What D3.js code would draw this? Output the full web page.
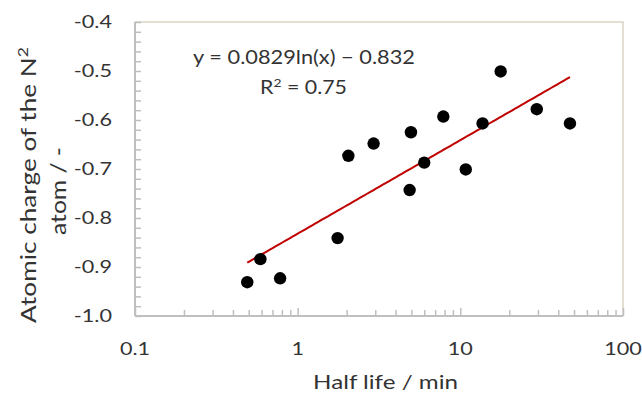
<!DOCTYPE html>
<html><head><meta charset="utf-8">
<script src="https://cdn.jsdelivr.net/npm/d3@7"></script>
<style>body{margin:0;background:#fff;} svg{display:block;} text{font-family:Lato,"Open Sans",sans-serif;fill:#333;}</style>
</head><body>
<svg id="c" width="642" height="393"></svg>
<script>
const halfLife = [0.49, 0.59, 0.78, 1.76, 2.05, 2.93, 4.97, 6.0, 4.88, 7.86, 17.7, 13.7, 10.8, 29.5, 47.2];
const charge   = [-0.931, -0.884, -0.923, -0.841, -0.673, -0.648, -0.625, -0.687, -0.743, -0.593, -0.501, -0.607, -0.701, -0.578, -0.607];
const xTicks = [0.1, 1, 10, 100];
const xTickLabels = ["0.1", "1", "10", "100"];
const yTicks = [-0.4, -0.5, -0.6, -0.7, -0.8, -0.9, -1.0];
const yTickLabels = ["-0.4", "-0.5", "-0.6", "-0.7", "-0.8", "-0.9", "-1.0"];
const fitA = 0.0829, fitB = -0.832;
const eqText = "y = 0.0829ln(x) − 0.832";
const r2Text = ["R", "2", " = 0.75"];
const xTitle = "Half life / min";
const yTitle1 = ["Atomic charge of the N", "2"];
const yTitle2 = "atom / -";

const svg = d3.select("#c");
const m = {l:135, t:22, r:19, b:77};
const W = 642, H = 393;
const x = d3.scaleLog().domain([0.1, 100]).range([m.l, W - m.r]);
const y = d3.scaleLinear().domain([-1.0, -0.4]).range([H - m.b, m.t]);
const SX = 1.2; // horizontal stretch of reference text

function label(px, py, rot, anchor, size, build, targetW) {
  const g = svg.append("g");
  const t = g.append("text").attr("text-anchor", anchor).attr("font-size", size);
  build(t);
  const w = t.node().getBBox().width;
  const s = targetW ? targetW / w : SX;
  g.attr("transform", `translate(${px},${py}) rotate(${rot}) scale(${s},1)`);
  return g;
}

// frame top/right
svg.append("path").attr("d", `M${x(0.1)},${y(-0.4)}H${x(100)}V${y(-1.0)}`)
  .attr("fill","none").attr("stroke","#d9d5c3").attr("stroke-width",1.5);

// minor ticks
const yMinor = d3.range(0, 31).map(i => -1.0 + i*0.02);
const xMinor = [];
[0.1,1,10].forEach(d => { for (let k=1;k<=9;k++) xMinor.push(d*k); });
xMinor.push(100);

const gx = svg.append("g").attr("transform", `translate(0,${y(-1.0)})`);
gx.call(d3.axisTop(x).tickValues(xMinor).tickSize(6).tickFormat(""));
gx.select(".domain").remove();
const gy = svg.append("g").attr("transform", `translate(${x(0.1)},0)`);
gy.call(d3.axisRight(y).tickValues(yMinor).tickSize(6).tickFormat(""));
gy.select(".domain").remove();
svg.selectAll(".tick line").attr("stroke","#bfbfbf").attr("stroke-width",1.5);
gx.selectAll(".tick line").attr("y2", d => xTicks.some(t => Math.abs(t-d)<1e-9) ? -8 : -6);

// axis lines
svg.append("line").attr("x1",x(0.1)).attr("x2",x(100)).attr("y1",y(-1.0)).attr("y2",y(-1.0)).attr("stroke","#bfbfbf").attr("stroke-width",2);
svg.append("line").attr("x1",x(0.1)).attr("x2",x(0.1)).attr("y1",y(-0.4)).attr("y2",y(-1.0)).attr("stroke","#bfbfbf").attr("stroke-width",2);

// tick labels
xTicks.forEach((d,i) => label(x(d), 355, 0, "middle", 18, t => t.text(xTickLabels[i])));
yTicks.forEach((d,i) => label(112, y(d) + 6.3, 0, "end", 18, t => t.text(yTickLabels[i])));

// trendline
const xs = d3.extent(halfLife);
const linePts = d3.range(0, 101).map(i => {
  const v = Math.exp(Math.log(xs[0]) + i/100*(Math.log(xs[1])-Math.log(xs[0])));
  return [v, fitA*Math.log(v) + fitB];
});
svg.append("path").datum(linePts)
  .attr("d", d3.line().x(d=>x(d[0])).y(d=>y(d[1])))
  .attr("fill","none").attr("stroke","#c00000").attr("stroke-width",2);

// points
svg.append("g").selectAll("circle").data(halfLife).join("circle")
  .attr("cx", d => x(d)).attr("cy", (d,i) => y(charge[i])).attr("r", 6.2).attr("fill","#000");

// equation
label(304, 63.5, 0, "middle", 18.5, t => t.text(eqText), 222);
label(303.5, 93.5, 0, "middle", 18.5, t => {
  t.append("tspan").text(r2Text[0]);
  t.append("tspan").attr("dy",-7).attr("font-size",12).text(r2Text[1]);
  t.append("tspan").attr("dy",7).text(r2Text[2]);
}, 87);

// axis titles
label(385.5, 389, 0, "middle", 20, t => t.text(xTitle), 145);
label(36, 185, -90, "middle", 21, t => {
  t.append("tspan").text(yTitle1[0]);
  t.append("tspan").attr("dy",-8).attr("font-size",14).text(yTitle1[1]);
}, 276);
label(66, 191, -90, "middle", 21, t => t.text(yTitle2), 88);
</script>
</body></html>
